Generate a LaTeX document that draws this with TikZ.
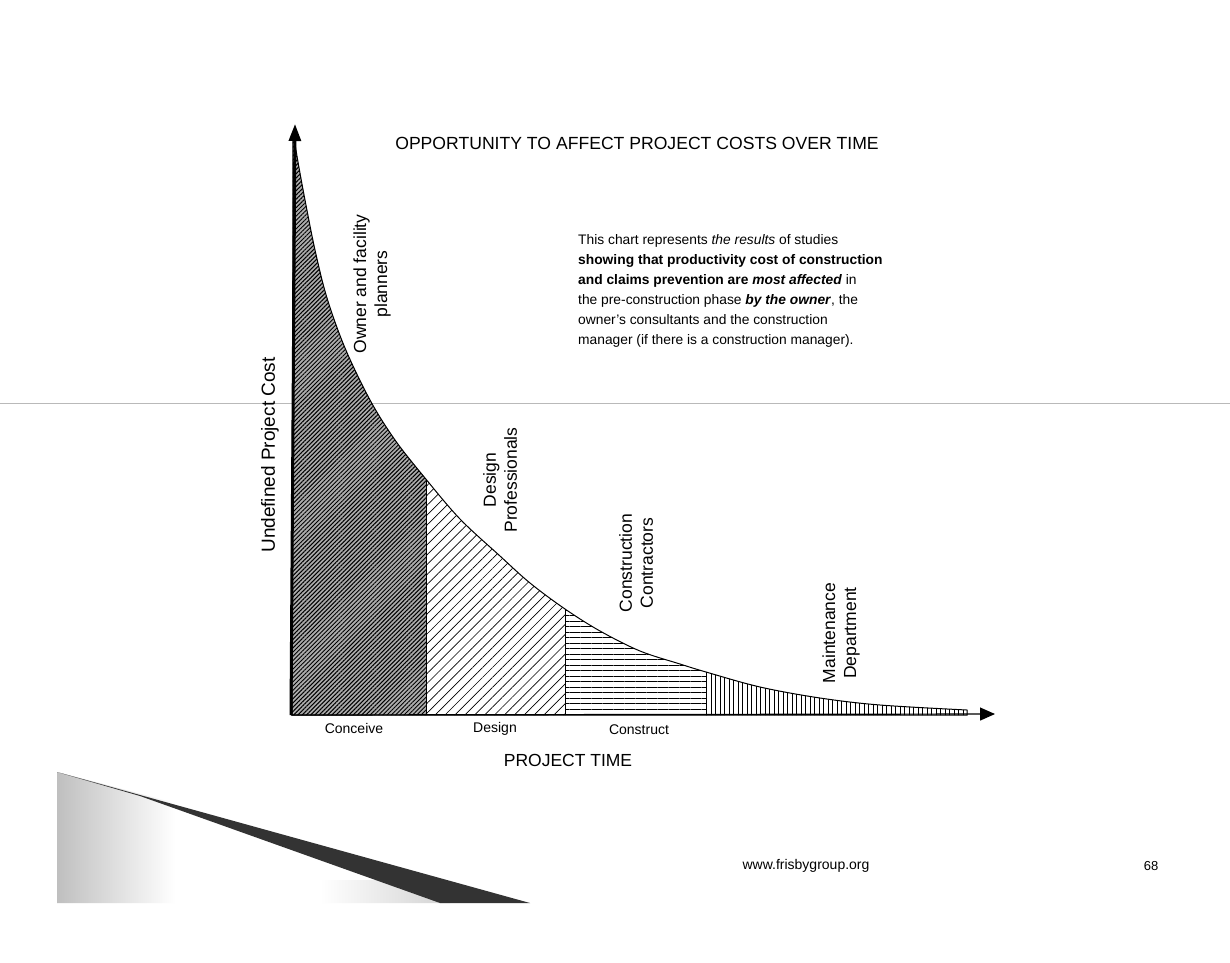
\documentclass[tikz,border=0pt]{standalone}
\usepackage{fontspec}
\setmainfont{Liberation Sans}
\usetikzlibrary{patterns.meta,arrows.meta}
\begin{document}
\begin{tikzpicture}[x=1pt,y=-1pt,
  lab/.style={font=\fontsize{17.5}{21}\selectfont, inner sep=0pt, align=center},
  phase/.style={font=\fontsize{14}{16}\selectfont, inner sep=0pt},
  axisline/.style={line width=1.2pt, black},
  divider/.style={line width=1pt, black}]
\useasboundingbox (0,0) rectangle (1230,962);
\fill[white] (0,0) rectangle (1230,962);
% scan line
\draw[gray!55, line width=1pt] (0,403) -- (1230,403);
% area under curve
\path[save path=\area] (292,715) -- plot[smooth,tension=0.55] coordinates{(293,132) (298,162) (305,200) (315,250) (327,298) (345,348) (370,400) (395,440) (425,478) (460,519) (500,556) (530,583) (565,609) (600,631) (640,651) (680,664) (706,672) (760,687) (820,698) (880,705) (967,710)} -- (967,715) -- cycle;
\begin{scope}
  \clip[use path=\area];
  \fill[gray!65] (290,100) rectangle (426,716);
  \fill[pattern={Lines[angle=45,distance=3pt,line width=1pt]}] (290,100) rectangle (426,716);
  \fill[pattern={Lines[angle=45,distance=7pt,line width=0.7pt]}] (426,100) rectangle (565,716);
  \fill[pattern={Lines[angle=0,distance=5.5pt,line width=0.9pt]}] (565,100) rectangle (706,716);
  \fill[pattern={Lines[angle=90,distance=4.5pt,line width=0.9pt]}] (706,100) rectangle (968,716);
  \draw[divider] (426,100) -- (426,716);
  \draw[divider] (565,100) -- (565,716);
  \draw[divider] (706,100) -- (706,716);
\end{scope}
\draw[line width=1pt, use path=\area];
% axes
\coordinate (O) at (291,715);
\coordinate (ytop) at (295,124);
\coordinate (xtip) at (995,714);
\draw[line width=3pt, -{Triangle[width=12pt,length=17pt]}] (O) -- (ytop);
\draw[axisline, -{Triangle[width=13pt,length=15pt]}] (O) -- (xtip);
% title
\node[font=\fontsize{17.6}{20}\selectfont, inner sep=0pt] (title) at (637,143) {OPPORTUNITY TO AFFECT PROJECT COSTS OVER TIME};
% axis labels
\node[lab, rotate=90, font=\fontsize{19}{21}\selectfont] (ylab) at (270,455) {Undefined Project Cost};
\node[lab, font=\fontsize{17.5}{20}\selectfont] (xlab) at (568,760) {PROJECT TIME};
% group labels
\node[lab, rotate=90] (owner) at (372,284) {Owner and facility\\planners};
\node[lab, rotate=90] (design) at (500,480) {Design\\Professionals};
\node[lab, rotate=90] (constr) at (636,563) {Construction\\Contractors};
\node[lab, rotate=90] (maint) at (841,633) {Maintenance\\Department};
% phase labels
\node[phase] (conceive) at (354,728) {Conceive};
\node[phase] (designph) at (495,729) {Design};
\node[phase] (construct) at (639,730) {Construct};
% paragraph
\node[anchor=north west, align=left, inner sep=0pt, font=\fontsize{13.8}{20}\selectfont] (para) at (578,234) {This chart represents \textit{the results} of studies\\
\textbf{showing that productivity cost of construction}\\
\textbf{and claims prevention are \textit{most affected}} in\\
the pre-construction phase \textbf{\textit{by the owner}}, the\\
owner's consultants and the construction\\
manager (if there is a construction manager).};
% footer
\node[font=\fontsize{14}{16}\selectfont, inner sep=0pt] (url) at (806,866) {www.frisbygroup.org};
\node[font=\fontsize{13}{16}\selectfont, inner sep=0pt] (page) at (1151,866) {68};
% bottom-left decoration
\shade[left color=gray!50, right color=white] (57,772) -- (175,803) -- (175,903) -- (57,903) -- cycle;
\shade[left color=white, right color=gray!35] (320,880) -- (440,880) -- (450,903) -- (320,903) -- cycle;
\fill[black!80] (57,772) -- (530,903) -- (440,903) -- (140,796) -- cycle;
\end{tikzpicture}
\end{document}
